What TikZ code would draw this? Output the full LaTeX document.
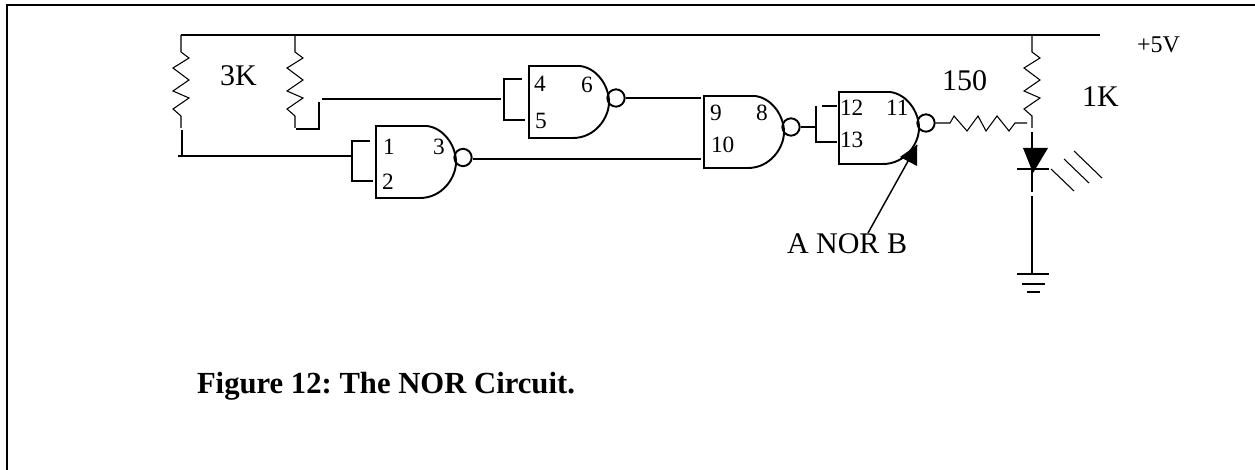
\documentclass[tikz,border=0pt]{standalone}
\usepackage{fontspec}
\setmainfont{Liberation Serif}
\newcommand{\px}[1]{\fontsize{#1}{#1}\selectfont}
\tikzset{
  x=0.75pt,y=-0.75pt,
  wire/.style={draw=black,line width=1.1pt},
  thin wire/.style={draw=black,line width=0.8pt,line join=miter},
  heavy/.style={draw=black,line width=1.45pt},
  bubble/.style={circle,draw=black,line width=1.45pt,minimum size=13pt,inner sep=0pt,fill=none},
  gatebody/.style={rectangle,minimum width=60pt,minimum height=54pt,inner sep=0pt},
  txt/.style={anchor=base west,inner sep=0pt,outer sep=0pt},
  pin/.style={txt,font=\px{17.5}},
  big/.style={txt,font=\px{22.5}},
}
% name, left x, top y
\newcommand{\nandgate}[3]{%
  \begin{scope}[shift={(#2,#3)}]
    \node[gatebody] (#1) at (40,36) {};
    \draw[heavy,line join=miter] (51,0) -- (0,0) -- (0,72) -- (44,72)
      .. controls (66,72) and (80,52) .. (80,36)
      .. controls (80,20) and (68,2) .. (51,0);
  \end{scope}}
% zigzag vertical resistor: name, x
\newcommand{\vresistor}[2]{%
  \coordinate (#1top) at (#2,35);
  \coordinate (#1bot) at (#2,128);
  \draw[thin wire] (#1top) -- (#2,52) -- (#2+8,58) -- (#2-8,68) -- (#2+8,80) -- (#2-8,91)
    -- (#2+8,98) -- (#2-8,109) -- (#2,116) -- (#1bot);}
\begin{document}
\begin{tikzpicture}
\useasboundingbox (0,0) rectangle (1255,470);
% frame
\coordinate (fbl) at (7,470);
\coordinate (ftl) at (7,5);
\coordinate (ftr) at (1255,5);
\draw[black,line width=1.5pt] (fbl) -- (ftl) -- (ftr);
% rail
\coordinate (railL) at (181,35);
\coordinate (railR) at (1100,35);
\draw[heavy] (railL) -- (railR);
% resistors
\vresistor{ra}{181}
\vresistor{rb}{295}
\vresistor{rc}{1032}
% gates
\nandgate{ga}{376}{126}
\nandgate{gb}{529}{66}
\nandgate{gc}{704}{96}
\nandgate{gd}{839}{92}
% bubbles
\node[bubble] (ba) at (463,157.5) {};
\node[bubble] (bb) at (616,98) {};
\node[bubble] (bc) at (791,127) {};
\node[bubble] (bd) at (926,123) {};
% input A
\coordinate (aT) at (182,130);
\coordinate (aJ) at (182,156);
\coordinate (aS) at (178,156);
\coordinate (aB) at (352,156);
\coordinate (a1a) at (352,141);
\coordinate (a1b) at (370,141);
\coordinate (a2a) at (352,181);
\coordinate (a2b) at (373,181);
\draw[wire] (aT) -- (aJ);
\draw[wire] (aS) -- (aB);
\draw[wire] (a1b) -- (a1a) -- (a2a) -- (a2b);
% input B
\coordinate (bL1) at (296,129);
\coordinate (bL2) at (319,129);
\coordinate (bL3) at (319,102);
\coordinate (bIn) at (322,99);
\coordinate (bOut) at (501,99);
\draw[wire] (bL1) -- (bL2) -- (bL3);
\draw[wire] (bIn) -- (bOut);
\coordinate (b1a) at (504,79);
\coordinate (b1b) at (522,79);
\coordinate (b2a) at (504,120);
\coordinate (b2b) at (525,120);
\draw[wire] (b1b) -- (b1a) -- (b2a) -- (b2b);
% gate outputs
\coordinate (c10) at (701,159);
\coordinate (c9) at (701,98);
\draw[wire] (ba.east |- c10) -- (c10);
\draw[wire] (bb.east) -- (c9);
% gate d inputs
\coordinate (dJ) at (816,127);
\coordinate (d1) at (816,106);
\coordinate (d2) at (816,142);
\coordinate (d1s) at (822,106);
\coordinate (d1e) at (837,106);
\coordinate (d2e) at (837,142);
\draw[wire] (bc.east) -- (dJ);
\draw[wire] (d1) -- (d2) -- (d2e);
\draw[wire] (d1s) -- (d1e);
% 150 resistor
\coordinate (r5a) at (950,123);
\coordinate (r5b) at (1027,123);
\draw[thin wire] (bd.east) -- (r5a) -- (954,116) -- (967,131) -- (978,116) -- (986,131)
  -- (997,116) -- (1009,131) -- (1015,123) -- (r5b);
% LED
\coordinate (ledT) at (1032,132);
\coordinate (ledB) at (1032,192);
\coordinate (gndT) at (1032,196);
\coordinate (gnd1) at (1032,274);
\draw[wire] (ledT) -- (ledB);
\draw[wire] (gndT) -- (gnd1);
\coordinate (tri1) at (1023,148);
\coordinate (tri2) at (1048,148);
\coordinate (tri3) at (1033,173);
\fill[black] (tri1) -- (tri2) -- (tri3) -- cycle;
\coordinate (katL) at (1017,169);
\coordinate (katR) at (1049,169);
\draw[wire] (katL) -- (katR);
% light rays
\coordinate (l1a) at (1051,169); \coordinate (l1b) at (1074,191);
\coordinate (l2a) at (1064,159); \coordinate (l2b) at (1089,183);
\coordinate (l3a) at (1074,151); \coordinate (l3b) at (1102,178);
\draw[thin wire] (l1a) -- (l1b);
\draw[thin wire] (l2a) -- (l2b);
\draw[thin wire] (l3a) -- (l3b);
% ground
\coordinate (g1L) at (1017,274); \coordinate (g1R) at (1049,274);
\coordinate (g2L) at (1022,284); \coordinate (g2R) at (1045,284);
\coordinate (g3L) at (1027,292); \coordinate (g3R) at (1040,292);
\draw[wire] (g1L) -- (g1R);
\draw[wire] (g2L) -- (g2R);
\draw[wire] (g3L) -- (g3R);
% arrow
\coordinate (arS) at (868,233);
\coordinate (arT) at (917,145);
\coordinate (arA) at (900,157);
\coordinate (arB) at (917,166);
\draw[wire] (arS) -- (arT);
\fill[black] (arT) -- (arA) -- (arB) -- cycle;
% pin labels
\node[pin] (p1) at (383,155) {1};
\node[pin] (p2) at (382,190) {2};
\node[pin] (p3) at (433,155) {3};
\node[pin] (p4) at (534,92) {4};
\node[pin] (p5) at (535,129) {5};
\node[pin] (p6) at (581,93) {6};
\node[pin] (p9) at (710,121) {9};
\node[pin] (p8) at (756,121) {8};
\node[pin] (p10) at (711,153) {10};
\node[pin] (p12) at (840,116) {12};
\node[pin] (p11) at (886,116) {11};
\node[pin] (p13) at (840,148) {13};
% value labels
\node[big] (t3k) at (220,86) {3K};
\node[big] (t150) at (942,91) {150};
\node[big] (t1k) at (1082,107) {1K};
\node[big] (tnor) at (787,253) {A NOR B};
\node[txt,font=\px{18}] (t5v) at (1137,53) {+5V};
\node[txt,font=\px{23}\bfseries] (cap) at (197,393) {\frenchspacing Figure 12: The NOR Circuit.};
\end{tikzpicture}
\end{document}
